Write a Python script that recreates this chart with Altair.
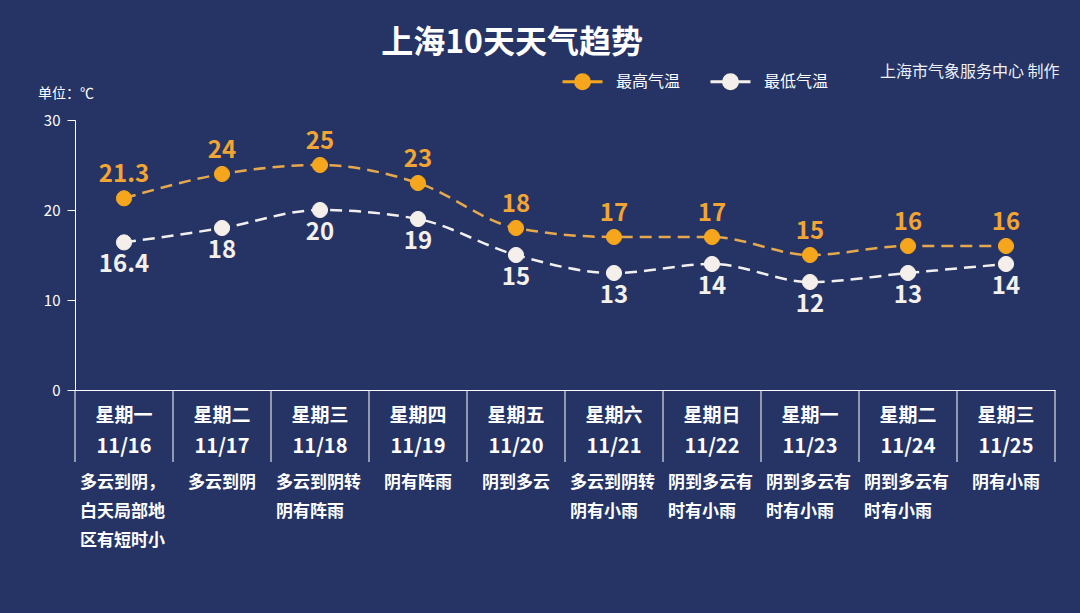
import altair as alt
import pandas as pd

title_text = "上海10天天气趋势"
unit_text = "单位：℃"
source_text = "上海市气象服务中心 制作"
series_names = ["最高气温", "最低气温"]
days = ["星期一", "星期二", "星期三", "星期四", "星期五", "星期六", "星期日", "星期一", "星期二", "星期三"]
dates = ["11/16", "11/17", "11/18", "11/19", "11/20", "11/21", "11/22", "11/23", "11/24", "11/25"]
high = [21.3, 24, 25, 23, 18, 17, 17, 15, 16, 16]
low = [16.4, 18, 20, 19, 15, 13, 14, 12, 13, 14]
weather = [
    "多云到阴，\n白天局部地\n区有短时小",
    "多云到阴",
    "多云到阴转\n阴有阵雨",
    "阴有阵雨",
    "阴到多云",
    "多云到阴转\n阴有小雨",
    "阴到多云有\n时有小雨",
    "阴到多云有\n时有小雨",
    "阴到多云有\n时有小雨",
    "阴有小雨",
]
y_ticks = [0, 10, 20, 30]

BG = "#253465"
ORANGE = "#f5a61c"
ORANGE_LINE = "#e6a84c"
WHITE_PT = "#f4efea"
WHITE_LINE = "#f2f0ee"
FONT = "Noto Sans CJK SC"

idx = list(range(len(days)))
df = pd.DataFrame({"idx": idx, "day": days, "date": dates, "weather": weather})
df["multi"] = df["weather"].str.contains("\n")
long = pd.concat([
    pd.DataFrame({"idx": idx, "series": series_names[0], "value": high}),
    pd.DataFrame({"idx": idx, "series": series_names[1], "value": low}),
], ignore_index=True)
long["label"] = long["value"].map(lambda v: f"{v:g}")
bounds = pd.DataFrame({"b": [i - 0.5 for i in range(len(days) + 1)]})

xscale = alt.Scale(domain=[-0.5, len(days) - 0.5], nice=False, zero=False)
xaxis = alt.Axis(labels=False, ticks=False, grid=False, domainColor="white",
                 domainWidth=1, title=None)
yscale = alt.Scale(domain=[0, 30], nice=False)
yaxis = alt.Axis(values=y_ticks, grid=False, domainColor="white", tickColor="white",
                 tickSize=8, labelColor="white", labelFontSize=15, labelFont=FONT,
                 labelPadding=7, title=None)

X = alt.X("idx:Q", scale=xscale, axis=xaxis)
Y = alt.Y("value:Q", scale=yscale, axis=yaxis)

base = alt.Chart(long)
hi = base.transform_filter(alt.datum.series == series_names[0])
lo = base.transform_filter(alt.datum.series == series_names[1])

line_hi = hi.mark_line(strokeWidth=2.5, strokeDash=[12, 7], interpolate="monotone",
                       color=ORANGE_LINE).encode(x=X, y=Y)
line_lo = lo.mark_line(strokeWidth=2.5, strokeDash=[12, 7], interpolate="monotone",
                       color=WHITE_LINE).encode(x=X, y=Y)

legend_path = "M-1,0L1,0M0.35,0A0.35,0.35,0,1,1,-0.35,0A0.35,0.35,0,1,1,0.35,0Z"
leg = alt.Legend(title=None, orient="none", legendX=486, legendY=-60,
                 direction="horizontal", symbolType=legend_path,
                 symbolSize=1600, symbolStrokeWidth=3, symbolOpacity=1,
                 labelColor="white", labelFontSize=16, labelFont=FONT,
                 labelOffset=12, columnPadding=23, padding=0)
pscale = alt.Scale(domain=series_names, range=[ORANGE, WHITE_PT])
points = base.mark_point(filled=True, size=230, opacity=1, strokeWidth=1).encode(
    x=X, y=Y,
    fill=alt.Fill("series:N", scale=pscale, legend=leg),
    stroke=alt.Stroke("series:N", scale=pscale, legend=leg),
)

high_labels = hi.mark_text(
    dy=-23, fontSize=24, fontWeight="bold", font=FONT, color="#f2a533").encode(
    x=X, y=Y, text="label:N")
low_labels = lo.mark_text(
    dy=23, fontSize=24, fontWeight="bold", font=FONT, color="#f4f0ec").encode(
    x=X, y=Y, text="label:N")

rules = alt.Chart(bounds).mark_rule(color="white", strokeWidth=1).encode(
    x=alt.X("b:Q", scale=xscale, axis=xaxis), y=alt.value(270), y2=alt.value(342))

tbl = alt.Chart(df)
TX = alt.X("idx:Q", scale=xscale, axis=xaxis)
day_text = tbl.mark_text(fontSize=19, fontWeight="bold", font=FONT, color="white").encode(
    x=TX, y=alt.value(296), text="day:N")
date_text = tbl.mark_text(fontSize=20, fontWeight="bold", font=FONT, color="white").encode(
    x=TX, y=alt.value(327), text="date:N")
w_multi = tbl.transform_filter("datum.multi").mark_text(
    fontSize=17, fontWeight="bold", font=FONT, color="white", align="left", baseline="top",
    dx=-44, lineBreak="\n", lineHeight=29).encode(
    x=TX, y=alt.value(355), text="weather:N")
w_single = tbl.transform_filter("!datum.multi").mark_text(
    fontSize=17, fontWeight="bold", font=FONT, color="white", align="center", baseline="top").encode(
    x=TX, y=alt.value(355), text="weather:N")

title = alt.Chart(pd.DataFrame({"t": [title_text]})).mark_text(
    fontSize=32, fontWeight="bold", font=FONT, color="white").encode(
    text="t:N", x=alt.value(437), y=alt.value(-77))
unit = alt.Chart(pd.DataFrame({"t": [unit_text]})).mark_text(
    fontSize=14, font=FONT, color="white", align="left").encode(
    text="t:N", x=alt.value(-37), y=alt.value(-26))
source = alt.Chart(pd.DataFrame({"t": [source_text]})).mark_text(
    fontSize=16, font=FONT, color="#eef0f6", align="left").encode(
    text="t:N", x=alt.value(805), y=alt.value(-48))

chart = alt.layer(
    rules, line_hi, line_lo, points, high_labels, low_labels, day_text, date_text,
    w_multi, w_single, title, unit, source,
).properties(
    width=980, height=270,
    background=BG,
    padding={"left": 75, "top": 120, "right": 25, "bottom": 223},
    autosize=alt.AutoSizeParams(type="none"),
).configure_view(strokeWidth=0)

chart.save("out.html", embed_options={"renderer": "svg", "actions": False})
